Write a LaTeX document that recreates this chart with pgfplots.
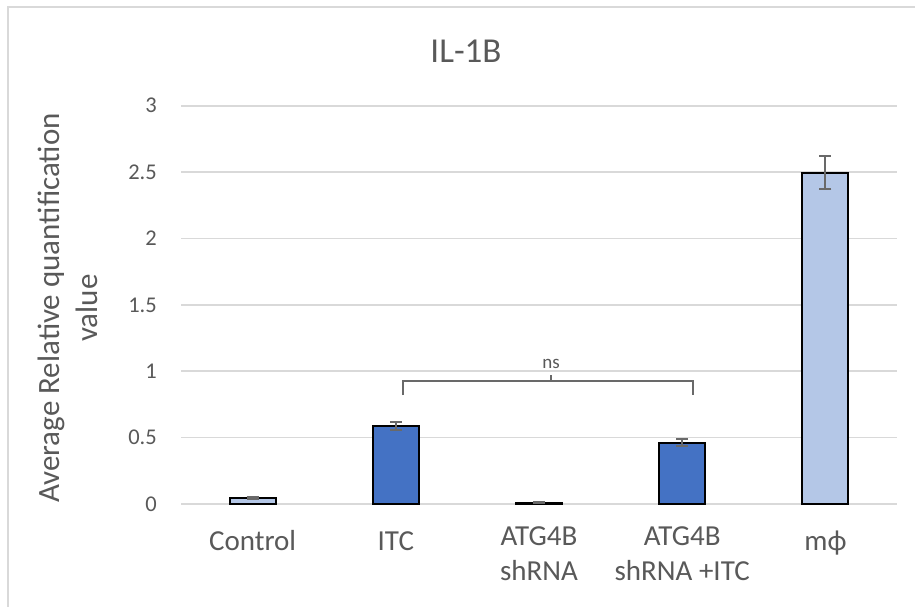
\documentclass[border=0pt]{standalone}
\usepackage{fontspec}
\setmainfont{Carlito}
\usepackage{pgfplots}
\pgfplotsset{compat=1.18}
\definecolor{darkbar}{RGB}{68,114,196}
\definecolor{lightbar}{RGB}{180,199,231}
\definecolor{txt}{RGB}{89,89,89}
\definecolor{gridc}{RGB}{217,217,217}
\definecolor{errc}{RGB}{105,105,105}
\begin{document}
\begin{tikzpicture}
\useasboundingbox (0,0) rectangle (915pt,607pt);
\fill[white] (0,0) rectangle (915pt,607pt);
\draw[gridc, line width=1.5pt] (8pt,0) -- (8pt,600pt) -- (915pt,600pt);
\begin{axis}[
 at={(181pt,103pt)}, anchor=south west,
 scale only axis, width=716pt, height=398.3pt,
 xmin=-0.5, xmax=4.5, ymin=0, ymax=3,
 ytick={0,0.5,1,1.5,2,2.5,3},
 xtick={0,1,2,3,4},
 xticklabels={Control, ITC, {ATG4B\\shRNA}, {ATG4B\\shRNA +ITC}, mϕ},
 axis line style={draw=none},
 major tick length=0pt,
 ymajorgrids, grid style={gridc, line width=1.7pt},
 /pgf/number format/assume math mode=true,
 yticklabel style={font=\fontsize{22.5}{26}\selectfont, text=txt, anchor=east, inner sep=0pt, xshift=-24pt},
 xticklabel style={font=\fontsize{29}{35}\selectfont, text=txt, align=center, anchor=north, inner sep=0pt, yshift=-22pt, execute at begin node=\strut},
 clip=false,
]
\addplot[ybar, bar width=46pt, fill=lightbar, draw=black, line width=2pt,
  error bars/.cd, y dir=both, y explicit,
  error bar style={errc, line width=2pt},
  error mark options={rotate=90, mark size=6pt, errc, line width=2pt}]
  coordinates {(0,0.045) +- (0,0.004) (2,0.01) +- (0,0.002) (4,2.495) +- (0,0.125)};
\addplot[ybar, bar width=46pt, fill=darkbar, draw=black, line width=2pt,
  error bars/.cd, y dir=both, y explicit,
  error bar style={errc, line width=2pt},
  error mark options={rotate=90, mark size=6pt, errc, line width=2pt}]
  coordinates {(1,0.587) +- (0,0.03) (3,0.462) +- (0,0.025)};
\addplot[errc, line width=2pt, sharp plot, no marks] coordinates {(1.048,0.82) (1.048,0.928) (3.073,0.928) (3.073,0.82)};
\addplot[errc, line width=1.6pt, sharp plot, no marks] coordinates {(2.084,0.928) (2.084,0.97)};
\node[font=\fontsize{19}{21}\selectfont, text=txt] at (axis cs:2.084,1.054) {ns};
\end{axis}
\node[font=\fontsize{35}{40}\selectfont, text=txt] at (466pt,556pt) {IL-1B};
\node[rotate=90, align=center, font=\fontsize{31}{38}\selectfont, text=txt] at (68pt,299pt) {Average Relative quantification\\value};
\end{tikzpicture}
\end{document}
